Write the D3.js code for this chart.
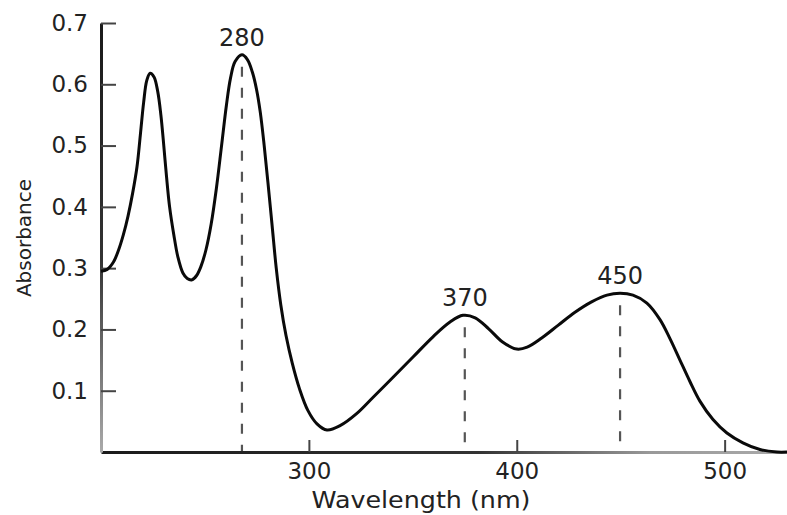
<!DOCTYPE html>
<html>
<head>
<meta charset="utf-8">
<script src="https://cdn.jsdelivr.net/npm/d3@7"></script>
<style>
  body { margin: 0; background: #fff; }
  svg { display: block; font-family: "DejaVu Sans", sans-serif; }
</style>
</head>
<body>
<div id="chart"></div>
<script>
// spectrum
const wavelength = [200, 203, 206, 208.5, 210.8, 213.0, 215.2, 217.3, 219.0, 220.5, 222.0, 223.6, 225.5, 227.3,
    228.8, 230.2, 231.5, 233.0, 235.0, 237.0, 239.4, 241.5, 243.8, 246.0, 248.0, 250.5, 253.0, 255.5, 258.0,
    260.3, 262.3, 264.5, 267.8, 270.5, 272.8, 274.8, 276.6, 278.5, 280.3, 282.3, 284.3, 286.5, 289.0, 292.0,
    295.5, 299.5, 303.9, 308.7, 315.0, 323.1, 330.8, 340.5, 350.1, 359.7, 367.9, 374.1, 380.0, 386.5, 393.0,
    400.0, 405.0, 412.0, 420.0, 428.0, 436.0, 443.4, 449.7, 455.9, 462.6, 468.9, 473.7, 478.5, 483.3, 488.1,
    494.4, 501.1, 508.8, 517.0, 525.2, 530];
const absorbance = [0.295, 0.298, 0.310, 0.330, 0.355, 0.385, 0.422, 0.465, 0.520, 0.570, 0.606, 0.618, 0.612, 0.588,
    0.550, 0.500, 0.450, 0.400, 0.355, 0.318, 0.292, 0.283, 0.281, 0.288, 0.302, 0.330, 0.372, 0.430, 0.500,
    0.565, 0.610, 0.637, 0.648, 0.640, 0.620, 0.592, 0.555, 0.500, 0.440, 0.370, 0.300, 0.240, 0.190, 0.145,
    0.103, 0.068, 0.046, 0.036, 0.043, 0.063, 0.089, 0.122, 0.155, 0.188, 0.212, 0.223, 0.219, 0.201, 0.180,
    0.168, 0.171, 0.186, 0.207, 0.228, 0.245, 0.256, 0.259, 0.256, 0.243, 0.216, 0.185, 0.150, 0.115, 0.083,
    0.053, 0.031, 0.015, 0.004, 0, 0];

// marked peaks (position on the drawn curve, and the label printed above it)
const peakWavelength = [267.8, 375, 449.7];
const peakAbsorbance = [0.648, 0.223, 0.259];
const peakLabels = ["280", "370", "450"];

const xTicks = [300, 400, 500];
const yTicks = [0.1, 0.2, 0.3, 0.4, 0.5, 0.6, 0.7];

const W = 787, H = 515;

const x = d3.scaleLinear().domain([200, 530]).range([101, 787]);
const y = d3.scaleLinear().domain([0, 0.7]).range([452, 23]);

const svg = d3.select("#chart").append("svg")
    .attr("width", W)
    .attr("height", H);

const defs = svg.append("defs");
const gy = defs.append("linearGradient").attr("id", "yfade")
    .attr("gradientUnits", "userSpaceOnUse")
    .attr("x1", 0).attr("y1", 23).attr("x2", 0).attr("y2", 452);
gy.append("stop").attr("offset", "0").attr("stop-color", "#1a1a1a");
gy.append("stop").attr("offset", "0.55").attr("stop-color", "#333");
gy.append("stop").attr("offset", "1").attr("stop-color", "#aaa");
const gx = defs.append("linearGradient").attr("id", "xfade")
    .attr("gradientUnits", "userSpaceOnUse")
    .attr("x1", 101).attr("y1", 0).attr("x2", 787).attr("y2", 0);
gx.append("stop").attr("offset", "0").attr("stop-color", "#1a1a1a");
gx.append("stop").attr("offset", "0.55").attr("stop-color", "#333");
gx.append("stop").attr("offset", "0.8").attr("stop-color", "#999");
gx.append("stop").attr("offset", "1").attr("stop-color", "#aaa");

// dashed drops from the peaks
svg.append("g")
    .selectAll("line")
    .data(peakWavelength)
    .join("line")
    .attr("x1", d => x(d))
    .attr("x2", d => x(d))
    .attr("y1", (d, i) => y(peakAbsorbance[i]) + 12)
    .attr("y2", y(0))
    .attr("stroke", "#555")
    .attr("stroke-width", 2.2)
    .attr("stroke-dasharray", "10,11");

// axes
const xAxis = svg.append("g")
    .attr("transform", `translate(0,${y(0)})`)
    .call(d3.axisBottom(x).tickValues(xTicks).tickSizeInner(-12).tickSizeOuter(0).tickPadding(11));
const yAxis = svg.append("g")
    .attr("transform", `translate(${x(200)},0)`)
    .call(d3.axisLeft(y).tickValues(yTicks).tickFormat(d3.format(".1f"))
        .tickSizeInner(-15).tickSizeOuter(0).tickPadding(13));

xAxis.select(".domain").attr("stroke", "url(#xfade)").attr("stroke-width", 3);
yAxis.select(".domain").attr("stroke", "url(#yfade)").attr("stroke-width", 3);
svg.selectAll(".tick line").attr("stroke", "#444").attr("stroke-width", 2);
svg.selectAll(".tick text")
    .attr("fill", "#222")
    .style("font-family", "DejaVu Sans, sans-serif")
    .style("font-size", "23px");

// spectrum curve
const pts = wavelength.map((w, i) => [w, absorbance[i]]);
svg.append("path")
    .datum(pts)
    .attr("fill", "none")
    .attr("stroke", "#0a0a0a")
    .attr("stroke-width", 3)
    .attr("stroke-linejoin", "round")
    .attr("d", d3.line().x(d => x(d[0])).y(d => y(d[1])).curve(d3.curveCatmullRom.alpha(0.5)));

// peak labels
svg.append("g")
    .selectAll("text")
    .data(peakLabels)
    .join("text")
    .attr("x", (d, i) => x(peakWavelength[i]))
    .attr("y", (d, i) => y(peakAbsorbance[i]) - 9)
    .attr("text-anchor", "middle")
    .attr("fill", "#222")
    .style("font-size", "24px")
    .text(d => d);

// axis titles
svg.append("text")
    .attr("x", 421)
    .attr("y", 508)
    .attr("text-anchor", "middle")
    .attr("fill", "#222")
    .attr("textLength", 219)
    .attr("lengthAdjust", "spacingAndGlyphs")
    .style("font-size", "23px")
    .text("Wavelength (nm)");

svg.append("text")
    .attr("transform", "translate(31,238) rotate(-90)")
    .attr("text-anchor", "middle")
    .attr("fill", "#222")
    .style("font-size", "20px")
    .text("Absorbance");
</script>
</body>
</html>
